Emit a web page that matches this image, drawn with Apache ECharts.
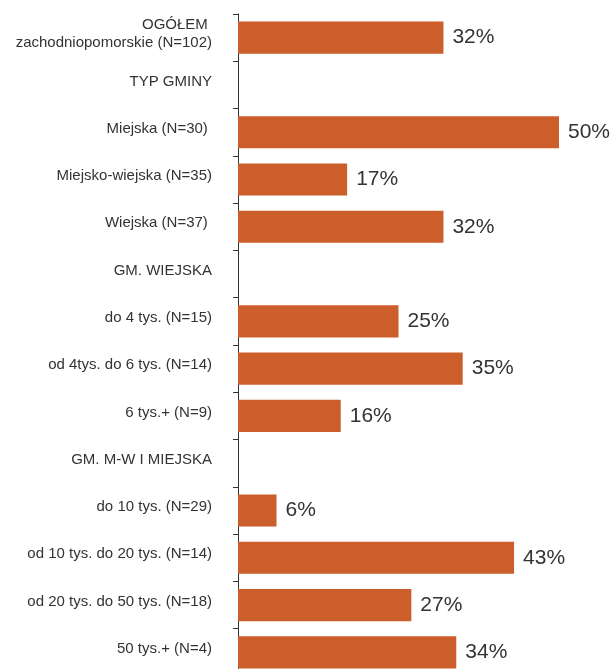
<!DOCTYPE html>
<html>
<head>
<meta charset="utf-8">
<script src="https://cdn.jsdelivr.net/npm/echarts@6/dist/echarts.min.js"></script>
<style>html,body{margin:0;padding:0;background:#fff}#c{width:611px;height:669px}</style>
</head>
<body>
<div id="c"></div>
<script>
const categories = [
  "OGÓŁEM \nzachodniopomorskie (N=102)",
  "TYP GMINY",
  "Miejska (N=30) ",
  "Miejsko-wiejska (N=35)",
  "Wiejska (N=37) ",
  "GM. WIEJSKA",
  "do 4 tys. (N=15)",
  "od 4tys. do 6 tys. (N=14)",
  "6 tys.+ (N=9)",
  "GM. M-W I MIEJSKA",
  "do 10 tys. (N=29)",
  "od 10 tys. do 20 tys. (N=14)",
  "od 20 tys. do 50 tys. (N=18)",
  "50 tys.+ (N=4)"
];
const values = [32, null, 50, 17, 32, null, 25, 35, 16, null, 6, 43, 27, 34];

const chart = echarts.init(document.getElementById('c'), null, {renderer: 'canvas'});
chart.setOption({
  animation: false,
  grid: {left: 238, width: 321, top: 14, height: 662, containLabel: false, outerBoundsMode: 'none'},
  xAxis: {
    type: 'value', min: 0, max: 50, show: false
  },
  yAxis: {
    type: 'category',
    inverse: true,
    data: categories,
    axisLine: {show: true, lineStyle: {color: '#333', width: 1}},
    axisTick: {show: true, length: 5, lineStyle: {color: '#333'}},
    axisLabel: {
      margin: 26, color: '#333', align: 'right',
      formatter: v => v.split('\n').map(l => '{t|' + l + '}').join('\n') +
        '\n{e| }',
      rich: {
        t: {fontSize: 15, lineHeight: 18, color: '#333', fontFamily: 'Liberation Sans, Arial, sans-serif'},
        e: {fontSize: 1, lineHeight: 7}
      }
    },
    splitLine: {show: false}
  },
  series: [{
    type: 'bar',
    data: values,
    barWidth: '68%',
    itemStyle: {color: '#CC5E2B'},
    label: {
      show: true, position: 'right', distance: 9,
      formatter: p => (p.value == null ? '' : p.value + '%'),
      fontSize: 21, color: '#333', fontFamily: 'Liberation Sans, Arial, sans-serif'
    }
  }]
});
</script>
</body>
</html>
